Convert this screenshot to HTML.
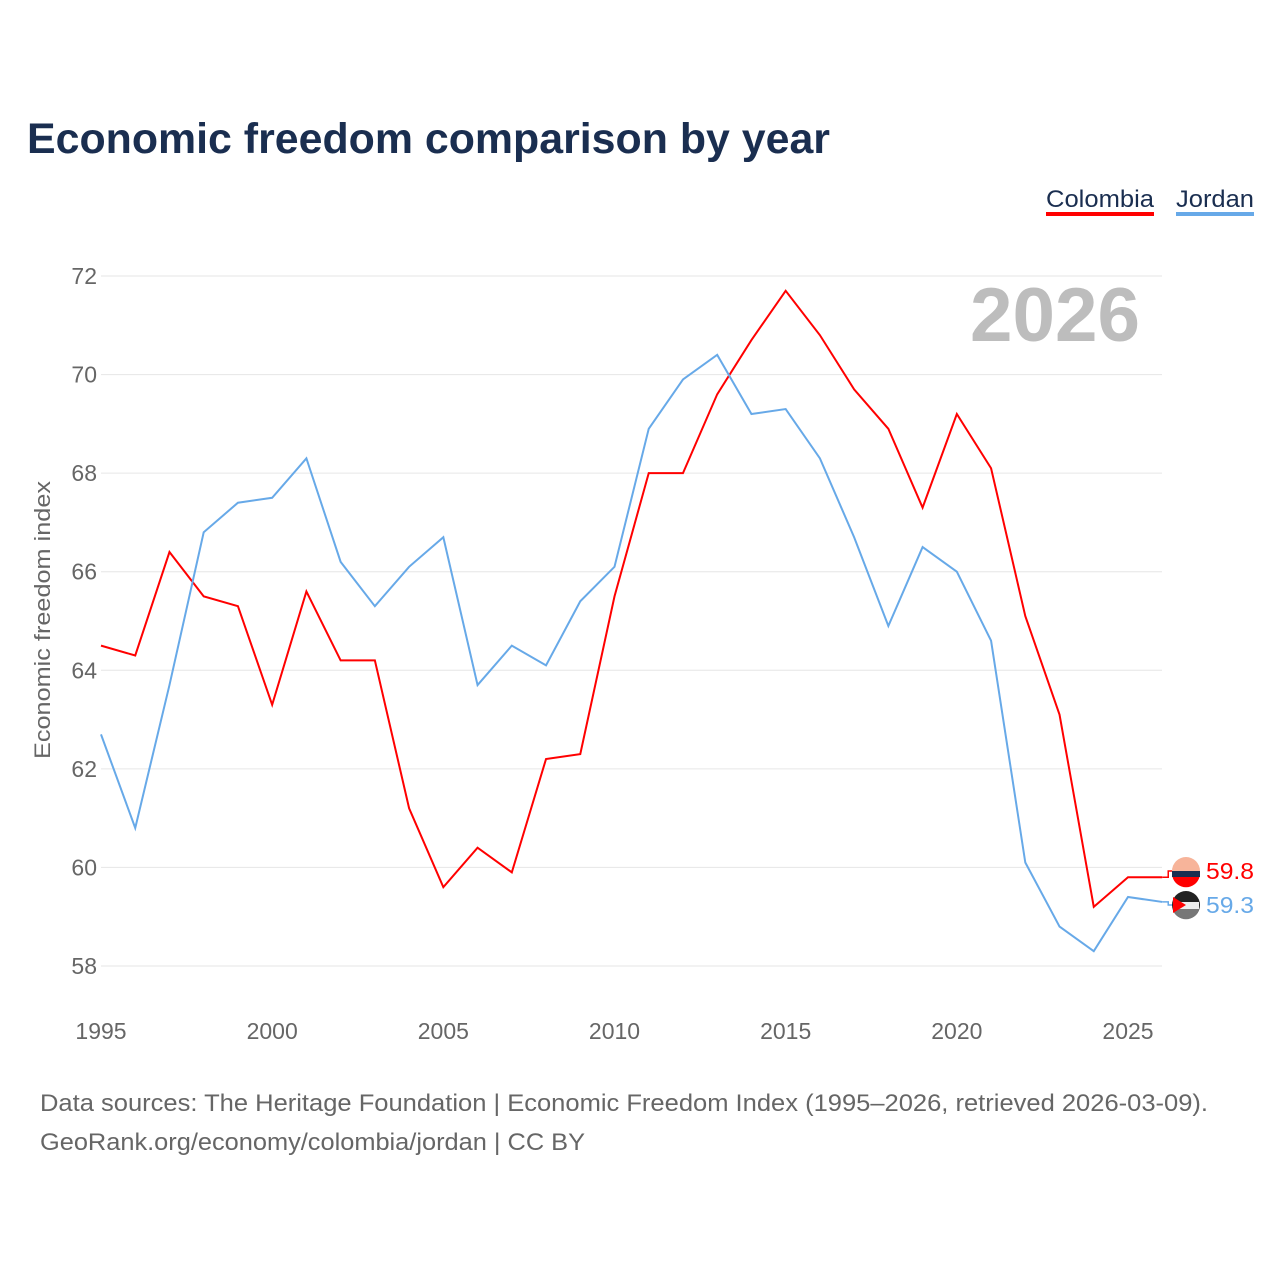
<!DOCTYPE html>
<html><head><meta charset="utf-8"><style>
body{margin:0;background:#fff;font-family:"Liberation Sans",sans-serif;}
#wrap{position:relative;width:1280px;height:1280px;overflow:hidden;}
</style></head><body>
<div id="wrap">
<svg id="chart" width="1280" height="1280">
<text x="27" y="153" font-size="43" font-weight="bold" fill="#1a2e50" textLength="803" lengthAdjust="spacingAndGlyphs">Economic freedom comparison by year</text>
<g>
<text x="1046" y="207" font-size="24" fill="#1a2e50" textLength="108" lengthAdjust="spacingAndGlyphs">Colombia</text>
<rect x="1046" y="212" width="108" height="4" fill="#ff0000"/></g>
<g>
<text x="1176" y="207" font-size="24" fill="#1a2e50" textLength="78" lengthAdjust="spacingAndGlyphs">Jordan</text>
<rect x="1176" y="212" width="78" height="4" fill="#67a9e8"/></g>
<text x="1140" y="341" font-size="76" font-weight="bold" fill="#bdbdbd" text-anchor="end" textLength="170" lengthAdjust="spacingAndGlyphs">2026</text>
<g id="grid"></g><g id="series"></g>
<text transform="translate(50,620) rotate(-90)" font-size="22" fill="#666" text-anchor="middle" textLength="278" lengthAdjust="spacingAndGlyphs">Economic freedom index</text>
<text x="40" y="1111" font-size="24" fill="#666" textLength="1168" lengthAdjust="spacingAndGlyphs">Data sources: The Heritage Foundation | Economic Freedom Index (1995–2026, retrieved 2026-03-09).</text>
<text x="40" y="1150" font-size="24" fill="#666" textLength="545" lengthAdjust="spacingAndGlyphs">GeoRank.org/economy/colombia/jordan | CC BY</text>
</svg></div>
<script>
const years=[1995,1996,1997,1998,1999,2000,2001,2002,2003,2004,2005,2006,2007,2008,2009,2010,2011,2012,2013,2014,2015,2016,2017,2018,2019,2020,2021,2022,2023,2024,2025,2026];
const colombia=[64.5,64.3,66.4,65.5,65.3,63.3,65.6,64.2,64.2,61.2,59.6,60.4,59.9,62.2,62.3,65.5,68.0,68.0,69.6,70.7,71.7,70.8,69.7,68.9,67.3,69.2,68.1,65.1,63.1,59.2,59.8,59.8];
const jordan=[62.7,60.8,63.7,66.8,67.4,67.5,68.3,66.2,65.3,66.1,66.7,63.7,64.5,64.1,65.4,66.1,68.9,69.9,70.4,69.2,69.3,68.3,66.7,64.9,66.5,66.0,64.6,60.1,58.8,58.3,59.4,59.3];
const yTicks=[58,60,62,64,66,68,70,72];
const xTicks=[1995,2000,2005,2010,2015,2020,2025];
const NS="http://www.w3.org/2000/svg";
const X=y=>101+(y-1995)*(1128-101)/30;
const Y=v=>276+(72-v)*(966-276)/14;
const grid=document.getElementById('grid'),ser=document.getElementById('series');
function mk(t,a,p){const e=document.createElementNS(NS,t);for(const k in a)e.setAttribute(k,a[k]);p.appendChild(e);return e;}
yTicks.forEach(v=>{
 const l=mk('line',{x1:101,x2:1162,y1:Y(v),y2:Y(v),stroke:'#e6e6e6','stroke-width':1},grid);
 
 
 const t=mk('text',{x:97,y:Y(v)+8,'font-size':23,fill:'#666','text-anchor':'end'},grid);
 t.textContent=v;
 
 
});
xTicks.forEach(v=>{
 const t=mk('text',{x:X(v),y:1039,'font-size':23,fill:'#666','text-anchor':'middle'},grid);
 t.textContent=v;
 
 
});
function line(vals,col,name,fy){
 const pts=vals.map((v,i)=>X(years[i])+','+Y(v)).join(' ');
 const p=mk('polyline',{points:pts,fill:'none',stroke:col,'stroke-width':2},ser);
 
 
 const last=vals[vals.length-1],lx=X(years[years.length-1]);
 const c=mk('polyline',{points:`${lx},${Y(last)} ${lx+6},${Y(last)} ${lx+6},${fy} ${lx+12},${fy}`,fill:'none',stroke:col,'stroke-width':1.5},ser);
 
 
 const f=mk('circle',{cx:1186,cy:fy,r:14,fill:name==='colombia'?'#f7b49a':'#222'},ser);
 
 
 if(name==='colombia'){mk('rect',{x:1172,y:fy,width:28,height:6,fill:'#1a2e50'},ser);mk('path',{d:`M1172.5,${fy+6} h27 a14,14 0 0 1 -27,0z`,fill:'#f00'},ser);}
 else{mk('rect',{x:1173,y:fy-3,width:26,height:7,fill:'#eee'},ser);mk('path',{d:`M1172.5,${fy+4} h27 a14,14 0 0 1 -27,0z`,fill:'#777'},ser);mk('path',{d:`M1173,${fy-8} L1186,${fy} L1173,${fy+8} z`,fill:'#f00'},ser);}
 const t=mk('text',{x:1206,y:fy+8,'font-size':23,fill:col,textLength:48,lengthAdjust:'spacingAndGlyphs'},ser);
 t.textContent=last.toFixed(1);
 
 
}
line(colombia,'#ff0000','colombia',871);
line(jordan,'#67a9e8','jordan',905);
</script>
</body></html>
